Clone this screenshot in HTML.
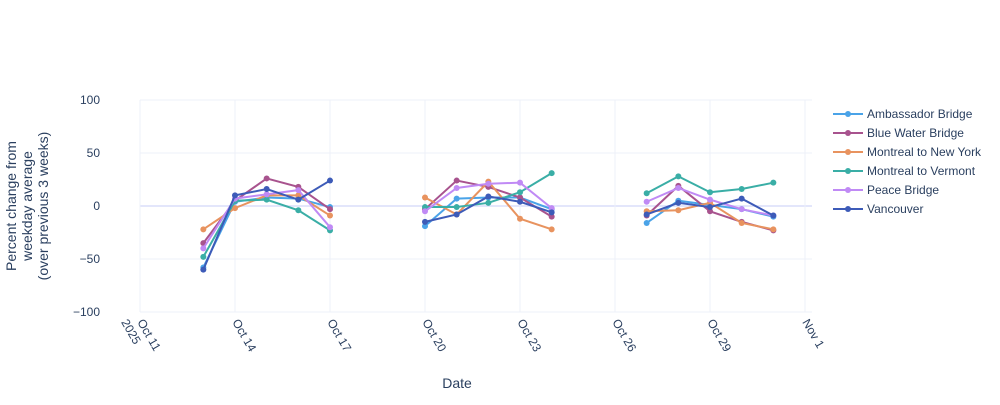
<!DOCTYPE html>
<html><head><meta charset="utf-8"><style>
body{margin:0;background:#fff;font-family:"Liberation Sans",Arial,sans-serif}
svg text{font-family:"Liberation Sans",Arial,sans-serif;fill:#2a3f5f}
</style></head><body>
<svg id="chart" width="1000" height="400">
<g id="grid"></g><g id="lines"></g><g id="axes"></g><g id="legend"></g>
<text x="457" y="388" font-size="14" text-anchor="middle">Date</text>
<text transform="translate(30,206) rotate(-90)" font-size="14" text-anchor="middle"><tspan x="0" dy="-14">Percent change from</tspan><tspan x="0" dy="16">weekday average</tspan><tspan x="0" dy="16">(over previous 3 weeks)</tspan></text>
</svg>
<script>
const dates=["2025-10-13","2025-10-14","2025-10-15","2025-10-16","2025-10-17","2025-10-18","2025-10-19","2025-10-20","2025-10-21","2025-10-22","2025-10-23","2025-10-24","2025-10-25","2025-10-26","2025-10-27","2025-10-28","2025-10-29","2025-10-30","2025-10-31"];
const seriesNames=["Ambassador Bridge","Blue Water Bridge","Montreal to New York","Montreal to Vermont","Peace Bridge","Vancouver"];
const ambassador=[-58,4,8,7,-1,null,null,-19,7,8,8,-3,null,null,-16,5,1,-3,-10];
const blueWater=[-35,5,26,18,-3,null,null,-3,24,18,8,-10,null,null,-9,19,-5,-15,-23];
const mtlNY=[-22,-2,10,10,-9,null,null,8,-8,23,-12,-22,null,null,-5,-4,3,-16,-22];
const mtlVT=[-48,5,6,-4,-23,null,null,-1,-1,3,13,31,null,null,12,28,13,16,22];
const peace=[-40,7,11,15,-20,null,null,-5,17,21,22,-2,null,null,4,17,6,-3,-9];
const vancouver=[-60,10,16,6,24,null,null,-15,-8,9,4,-6,null,null,-8,3,-1,7,-9];
const colors=["#4aa3e8","#a8538e","#e8935f","#3aaea6","#c08af5","#3d5bb8"];
const yTicks=[100,50,0,-50,-100];
const xTickDates=["2025-10-11","2025-10-14","2025-10-17","2025-10-20","2025-10-23","2025-10-26","2025-10-29","2025-11-01"];
const xTickLabels=["Oct 11","Oct 14","Oct 17","Oct 20","Oct 23","Oct 26","Oct 29","Nov 1"];
const NS="http://www.w3.org/2000/svg";
const d0=Date.UTC(2025,9,11);
function dayOf(s){const p=s.split("-");return (Date.UTC(+p[0],+p[1]-1,+p[2])-d0)/864e5;}
function X(s){return 140+dayOf(s)*31.667;}
function Y(v){return 206-v*1.06;}
function mk(t,a,parent){const e=document.createElementNS(NS,t);for(const k in a)e.setAttribute(k,a[k]);parent.appendChild(e);return e;}
const grid=document.getElementById("grid"),axes=document.getElementById("axes"),lines=document.getElementById("lines"),legend=document.getElementById("legend");
yTicks.forEach(v=>{
 const l=mk("line",{x1:140,x2:812,y1:Y(v),y2:Y(v),stroke:v===0?"#e3e6fb":"#eef0f8","stroke-width":v===0?2:1},grid);
 
 
 const t=mk("text",{x:100,y:Y(v)+4,"font-size":12,"text-anchor":"end"},axes);t.textContent=v===-100?"−100":(v===-50?"−50":v);
 
 
});
xTickDates.forEach((d,i)=>{
 const x=X(d);
 const l=mk("line",{x1:x,x2:x,y1:100,y2:312,stroke:"#eef0f8","stroke-width":1},grid);
 
 
 const t=mk("text",{transform:`translate(${x-3},${322}) rotate(60)`,"font-size":12},axes);
 
 
 const s1=mk("tspan",{x:0,y:0},t);s1.textContent=xTickLabels[i];
 if(i===0){const s2=mk("tspan",{x:-8,y:14},t);s2.textContent="2025";}
});
const all=[ambassador,blueWater,mtlNY,mtlVT,peace,vancouver];
all.forEach((vals,si)=>{
 const g=mk("g",{},lines);
 
 
 let segs=[],cur=[];
 vals.forEach((v,i)=>{if(v===null){if(cur.length)segs.push(cur);cur=[];}else cur.push([X(dates[i]),Y(v)]);});
 if(cur.length)segs.push(cur);
 segs.forEach(s=>{const p=mk("polyline",{points:s.map(q=>q.join(",")).join(" "),fill:"none",stroke:colors[si],"stroke-width":2},g);
  
  });
 vals.forEach((v,i)=>{if(v===null)return;const c=mk("circle",{cx:X(dates[i]),cy:Y(v),r:3,fill:colors[si]},g);
  
  });
 const ly=114+si*19;
 const lg=mk("g",{},legend);
 
 
 mk("line",{x1:833,x2:863,y1:ly,y2:ly,stroke:colors[si],"stroke-width":2},lg);
 mk("circle",{cx:848,cy:ly,r:3,fill:colors[si]},lg);
 const t=mk("text",{x:867,y:ly+4,"font-size":12},lg);t.textContent=seriesNames[si];
});
</script>
</body></html>
